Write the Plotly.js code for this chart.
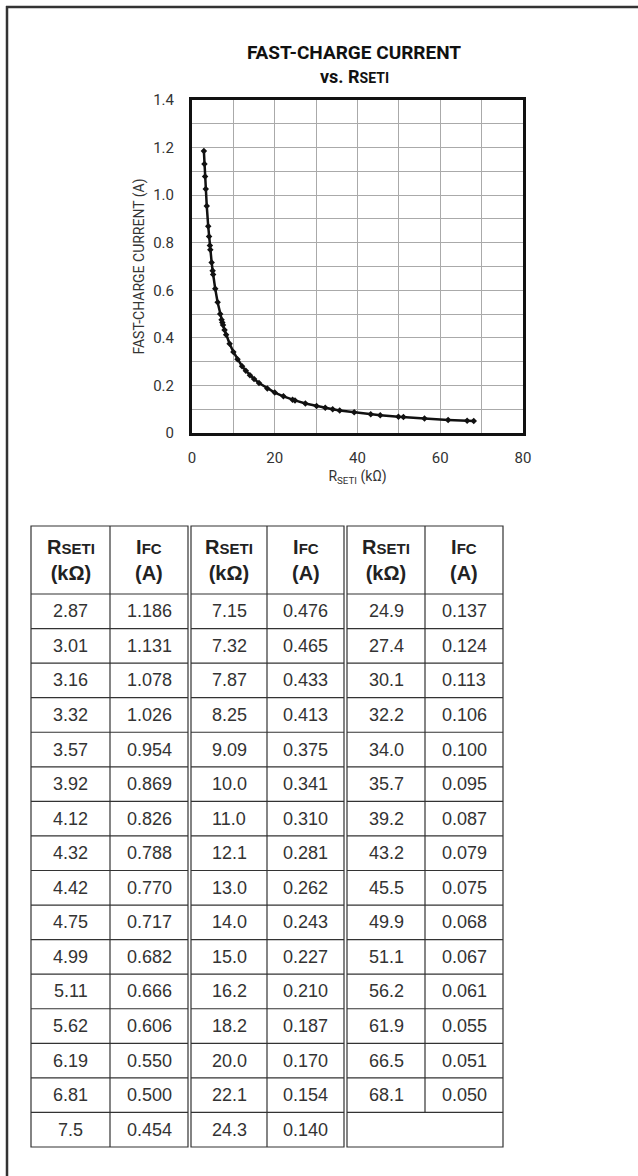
<!DOCTYPE html>
<html>
<head>
<meta charset="utf-8">
<script src="https://cdn.plot.ly/plotly-3.0.1.min.js"></script>
<style>html,body{margin:0;padding:0;background:#fff;}#chart{width:638px;height:1176px;}</style>
</head>
<body>
<div id="chart"></div>
<script>
const RSETI_1 = ["2.87","3.01","3.16","3.32","3.57","3.92","4.12","4.32","4.42","4.75","4.99","5.11","5.62","6.19","6.81","7.5"];
const IFC_1   = ["1.186","1.131","1.078","1.026","0.954","0.869","0.826","0.788","0.770","0.717","0.682","0.666","0.606","0.550","0.500","0.454"];
const RSETI_2 = ["7.15","7.32","7.87","8.25","9.09","10.0","11.0","12.1","13.0","14.0","15.0","16.2","18.2","20.0","22.1","24.3"];
const IFC_2   = ["0.476","0.465","0.433","0.413","0.375","0.341","0.310","0.281","0.262","0.243","0.227","0.210","0.187","0.170","0.154","0.140"];
const RSETI_3 = ["24.9","27.4","30.1","32.2","34.0","35.7","39.2","43.2","45.5","49.9","51.1","56.2","61.9","66.5","68.1"];
const IFC_3   = ["0.137","0.124","0.113","0.106","0.100","0.095","0.087","0.079","0.075","0.068","0.067","0.061","0.055","0.051","0.050"];

const X_TICK_VALS = [0,20,40,60,80];
const X_TICK_TEXT = ["0","20","40","60","80"];
const Y_TICK_VALS = [0,0.2,0.4,0.6,0.8,1.0,1.2,1.4];
const Y_TICK_TEXT = ["0","0.2","0.4","0.6","0.8","1.0","1.2","1.4"];

const CHART_TITLE = "<b>FAST-CHARGE CURRENT</b>";
const CHART_SUBTITLE = "<b>vs. R<span style='font-size:14px'>SETI</span></b>";
const X_TITLE = "R<sub>SETI</sub> (kΩ)";
const Y_TITLE = "FAST-CHARGE CURRENT (A)";
const HEAD_R = "<b>R<span style='font-size:15px'>SETI</span><br>(kΩ)</b>";
const HEAD_I = "<b>I<span style='font-size:15px'>FC</span><br>(A)</b>";

// ---- Build plotted series (sorted by resistance) ----
const pts = [];
[[RSETI_1,IFC_1],[RSETI_2,IFC_2],[RSETI_3,IFC_3]].forEach(([r,i]) => {
  r.forEach((v,k) => pts.push([parseFloat(v), parseFloat(i[k])]));
});
pts.sort((a,b) => a[0]-b[0]);
const xs = pts.map(p => p[0]);
const ys = pts.map(p => p[1]);

// ---- Layout geometry ----
const W = 638, H = 1176;
const px = x => x / W;
const py = y => 1 - y / H;
const NARROW = "Roboto, 'Liberation Sans', sans-serif";
const SANS = "'Liberation Sans', Arial, Helvetica, sans-serif";

const shapes = [];
const annotations = [];

// Outer frame (top and left edges)
shapes.push({type:'line', xref:'paper', yref:'paper', x0:px(6), x1:1, y0:py(7), y1:py(7), line:{color:'#333', width:2.5}});
shapes.push({type:'line', xref:'paper', yref:'paper', x0:px(7), x1:px(7), y0:py(6), y1:0, line:{color:'#333', width:2.5}});

// Subtitle line under the title
annotations.push({xref:'paper', yref:'paper', x:px(354), y:py(77), text:CHART_SUBTITLE, showarrow:false,
  xanchor:'center', yanchor:'middle', font:{family:NARROW, size:18, color:'#111'}});

// Table
const headTop = 526, headBot = 594, tableBot = 1147;
const rowH = (tableBot - headBot) / 16;
const groups = [
  {l:31,  m:110, r:188, R:RSETI_1, I:IFC_1},
  {l:191, m:267, r:344, R:RSETI_2, I:IFC_2},
  {l:347, m:425, r:503, R:RSETI_3, I:IFC_3}
];
const lc = {color:'#333', width:1.2};
groups.forEach(g => {
  shapes.push({type:'rect', xref:'paper', yref:'paper', x0:px(g.l), x1:px(g.r), y0:py(headTop), y1:py(tableBot), line:lc});
  shapes.push({type:'line', xref:'paper', yref:'paper', x0:px(g.l), x1:px(g.r), y0:py(headBot), y1:py(headBot), line:lc});
  for (let k = 1; k < 16; k++) {
    const y = headBot + k*rowH;
    shapes.push({type:'line', xref:'paper', yref:'paper', x0:px(g.l), x1:px(g.r), y0:py(y), y1:py(y), line:lc});
  }
  const midBot = headBot + g.R.length*rowH;
  shapes.push({type:'line', xref:'paper', yref:'paper', x0:px(g.m), x1:px(g.m), y0:py(headTop), y1:py(midBot), line:lc});
  const c1 = (g.l + g.m)/2, c2 = (g.m + g.r)/2;
  annotations.push({xref:'paper', yref:'paper', x:px(c1), y:py((headTop+headBot)/2), text:HEAD_R, showarrow:false,
    xanchor:'center', yanchor:'middle', font:{family:SANS, size:20, color:'#222'}});
  annotations.push({xref:'paper', yref:'paper', x:px(c2), y:py((headTop+headBot)/2), text:HEAD_I, showarrow:false,
    xanchor:'center', yanchor:'middle', font:{family:SANS, size:20, color:'#222'}});
  g.R.forEach((v,k) => {
    const yc = headBot + (k+0.5)*rowH;
    annotations.push({xref:'paper', yref:'paper', x:px(c1), y:py(yc), text:v, showarrow:false,
      xanchor:'center', yanchor:'middle', font:{family:SANS, size:18, color:'#333'}});
    annotations.push({xref:'paper', yref:'paper', x:px(c2), y:py(yc), text:g.I[k], showarrow:false,
      xanchor:'center', yanchor:'middle', font:{family:SANS, size:18, color:'#333'}});
  });
});

const trace = {
  x: xs, y: ys, type:'scatter', mode:'lines+markers',
  line:{color:'#111', width:2.5},
  marker:{symbol:'diamond', size:5, color:'#111'},
  hoverinfo:'x+y'
};

const axisCommon = {
  showgrid:true, gridcolor:'#aaa', gridwidth:1,
  showline:true, mirror:true, linecolor:'#111', linewidth:3,
  zeroline:false, ticks:'', tickmode:'array',
  tickfont:{family:NARROW, size:15, color:'#333'},
  automargin:false, fixedrange:true
};

const layout = {
  width:W, height:H,
  margin:{l:0, r:0, t:0, b:0},
  paper_bgcolor:'#fff', plot_bgcolor:'#fff',
  showlegend:false,
  title:{text:CHART_TITLE, x:px(354), xanchor:'center', y:py(52), yanchor:'middle',
    font:{family:NARROW, size:19, color:'#111'}},
  xaxis:Object.assign({}, axisCommon, {
    domain:[px(192), px(523)], range:[0,80],
    tickvals:X_TICK_VALS, ticktext:X_TICK_TEXT, ticklabelstandoff:9,
    minor:{tickmode:'linear', tick0:0, dtick:10, showgrid:true, gridcolor:'#aaa', gridwidth:1, ticks:''},
    title:{text:X_TITLE, standoff:6, font:{family:NARROW, size:14, color:'#333'}}
  }),
  yaxis:Object.assign({}, axisCommon, {
    domain:[py(433), py(100)], range:[0,1.4],
    tickvals:Y_TICK_VALS, ticktext:Y_TICK_TEXT, ticklabelstandoff:12,
    minor:{tickmode:'linear', tick0:0, dtick:0.1, showgrid:true, gridcolor:'#aaa', gridwidth:1, ticks:''},
    title:{text:Y_TITLE, standoff:6, font:{family:NARROW, size:14, color:'#333'}}
  }),
  shapes:shapes,
  annotations:annotations
};

Plotly.newPlot('chart', [trace], layout, {staticPlot:true, displayModeBar:false});
</script>
</body>
</html>
